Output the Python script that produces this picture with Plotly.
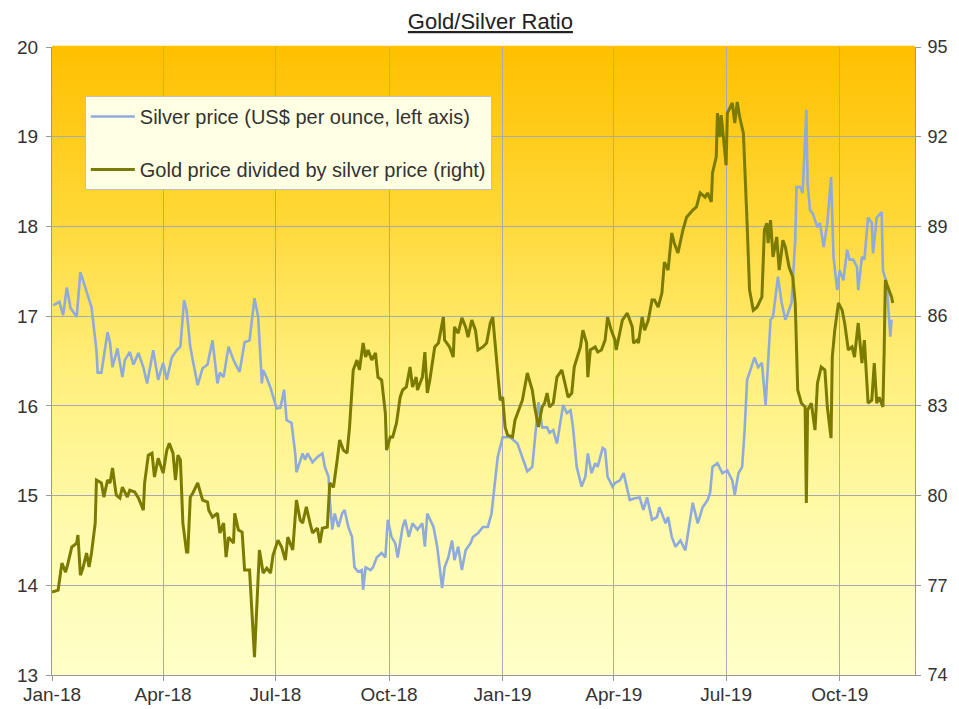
import pandas as pd
import plotly.graph_objects as go

# ---- data ----
start_date = "2018-01-01"

# silver price, US$ per ounce (left axis); days since 1 Jan 2018
silver_day = [1, 6, 9, 12, 15, 19, 20, 23, 27, 32, 36, 37, 40, 45, 47, 49, 53, 57, 59, 63,
              66, 70, 74, 77, 82, 86, 90, 93, 97, 101, 104, 107, 109, 112, 114, 118, 122, 126, 130, 134,
              136, 139, 143, 147, 150, 152, 156, 160, 164, 167, 170, 171, 174, 177, 182, 185, 188, 190, 194, 197,
              198, 203, 205, 207, 211, 215, 219, 221, 224, 225, 227, 229, 232, 235, 237, 240, 243, 245, 248, 251,
              252, 254, 258, 260, 263, 267, 270, 272, 275, 278, 280, 284, 286, 289, 292, 296, 300, 302, 304, 309,
              312, 314, 316, 318, 321, 324, 326, 329, 332, 335, 339, 341, 345, 349, 353, 356, 359, 361, 365, 371,
              377, 382, 385, 389, 393, 394, 397, 401, 403, 406, 409, 411, 414, 417, 420, 422, 425, 429, 432, 434,
              437, 440, 442, 446, 448, 450, 454, 456, 460, 463, 466, 468, 472, 476, 479, 482, 486, 490, 492, 497,
              499, 502, 505, 509, 513, 515, 519, 523, 527, 531, 533, 535, 539, 543, 547, 551, 553, 556, 559, 561,
              563, 565, 569, 572, 575, 578, 580, 582, 584, 587, 588, 591, 594, 596, 599, 602, 603, 606, 608, 611,
              612, 614, 616, 620, 622, 625, 628, 631, 633, 636, 638, 641, 644, 646, 649, 652, 653, 656, 658, 661,
              664, 665, 668, 672, 673, 676, 679, 680]
silver_usd = [17.12, 17.16, 17.01, 17.32, 17.09, 17.01, 16.99, 17.49, 17.32, 17.10, 16.62, 16.37, 16.37, 16.82, 16.70, 16.43, 16.64, 16.32, 16.51, 16.60,
              16.46, 16.59, 16.43, 16.25, 16.62, 16.29, 16.48, 16.29, 16.54, 16.62, 16.66, 17.18, 17.07, 16.66, 16.51, 16.23, 16.42, 16.46, 16.73, 16.25,
              16.37, 16.32, 16.66, 16.51, 16.43, 16.38, 16.71, 16.73, 17.20, 16.99, 16.25, 16.40, 16.31, 16.20, 15.97, 15.98, 16.18, 15.84, 15.81, 15.47,
              15.26, 15.47, 15.40, 15.47, 15.37, 15.43, 15.47, 15.32, 15.21, 14.95, 14.62, 14.80, 14.65, 14.80, 14.84, 14.65, 14.54, 14.20, 14.15, 14.17,
              13.95, 14.20, 14.17, 14.20, 14.31, 14.36, 14.31, 14.73, 14.54, 14.47, 14.31, 14.65, 14.73, 14.54, 14.69, 14.62, 14.69, 14.43, 14.80, 14.65,
              14.43, 14.17, 13.97, 14.20, 14.31, 14.50, 14.28, 14.43, 14.17, 14.39, 14.47, 14.54, 14.58, 14.65, 14.65, 14.80, 15.17, 15.43, 15.65, 15.65,
              15.58, 15.40, 15.27, 15.32, 15.88, 16.04, 15.76, 15.76, 15.70, 15.73, 15.58, 15.76, 16.01, 15.92, 15.95, 15.76, 15.32, 15.10, 15.21, 15.47,
              15.25, 15.36, 15.32, 15.53, 15.51, 15.21, 15.10, 15.14, 15.17, 15.25, 15.06, 14.95, 14.97, 14.98, 14.84, 14.98, 14.73, 14.76, 14.87, 14.69,
              14.76, 14.54, 14.43, 14.50, 14.39, 14.58, 14.92, 14.69, 14.87, 14.95, 15.03, 15.32, 15.36, 15.25, 15.28, 15.17, 15.01, 15.25, 15.32, 15.73,
              16.29, 16.37, 16.54, 16.43, 16.48, 16.01, 16.43, 16.96, 16.99, 17.29, 17.44, 17.15, 16.96, 17.03, 17.15, 17.85, 18.44, 18.44, 18.37, 19.30,
              18.48, 18.18, 18.15, 17.99, 18.04, 17.77, 18.04, 18.55, 17.66, 17.29, 17.51, 17.40, 17.74, 17.63, 17.63, 17.55, 17.29, 17.66, 17.63, 18.10,
              18.04, 17.70, 18.10, 18.16, 17.51, 17.37, 16.77, 16.96]

# gold price divided by silver price (right axis); days since 1 Jan 2018
ratio_day = [0, 5, 8, 11, 13, 16, 20, 21, 23, 25, 28, 30, 32, 35, 36, 40, 42, 45, 47, 49,
             52, 55, 57, 61, 63, 67, 70, 74, 75, 78, 81, 83, 86, 90, 93, 95, 98, 100, 102, 104,
             106, 109, 110, 112, 114, 118, 122, 126, 127, 130, 134, 136, 139, 141, 143, 147, 148, 151, 154, 156,
             160, 164, 168, 171, 174, 177, 179, 183, 186, 189, 191, 195, 198, 201, 203, 206, 209, 211, 215, 217,
             219, 223, 225, 228, 231, 233, 236, 239, 241, 244, 247, 249, 252, 254, 256, 259, 262, 264, 267, 270,
             271, 274, 276, 279, 282, 284, 287, 290, 292, 295, 296, 300, 302, 304, 306, 310, 313, 317, 318, 322,
             325, 326, 329, 332, 335, 337, 340, 343, 345, 349, 352, 355, 357, 360, 363, 365, 367, 369, 373, 375,
             379, 381, 385, 389, 391, 394, 397, 399, 401, 403, 406, 409, 413, 415, 418, 421, 423, 428, 430, 433,
             434, 436, 440, 442, 445, 448, 450, 453, 456, 457, 460, 462, 466, 470, 471, 474, 475, 478, 480, 483,
             486, 488, 491, 494, 496, 499, 502, 504, 507, 511, 514, 517, 519, 522, 525, 529, 531, 534, 535, 538,
             539, 541, 542, 544, 546, 547, 549, 551, 553, 555, 557, 560, 563, 565, 568, 571, 575, 577, 579, 580,
             582, 584, 587, 589, 592, 594, 597, 600, 602, 604, 607, 610, 611, 612, 615, 618, 620, 623, 626, 628,
             631, 632, 634, 637, 640, 642, 645, 648, 650, 653, 656, 658, 661, 664, 666, 668, 670, 673, 674, 675,
             677, 680, 681]
ratio_value = [76.77, 76.84, 77.74, 77.44, 77.74, 78.28, 78.41, 78.68, 77.34, 77.57, 78.08, 77.61, 78.08, 79.08, 80.52, 80.42, 79.95, 80.52, 80.42, 80.92,
               80.02, 79.92, 80.28, 79.95, 80.18, 80.12, 79.92, 79.51, 80.42, 81.35, 81.42, 80.62, 81.25, 80.75, 81.52, 81.75, 81.42, 80.52, 81.35, 81.19,
               79.08, 78.11, 78.11, 79.95, 80.08, 80.42, 79.85, 79.78, 79.51, 79.28, 79.41, 78.75, 79.08, 77.94, 78.61, 78.41, 79.41, 78.85, 78.78, 77.51,
               77.51, 74.60, 78.18, 77.41, 77.57, 77.41, 78.00, 78.51, 78.28, 77.84, 78.61, 78.18, 79.85, 79.18, 79.08, 79.62, 79.08, 78.75, 78.91, 78.41,
               78.91, 78.95, 80.42, 80.28, 81.19, 81.86, 81.52, 81.42, 82.29, 84.20, 84.53, 84.20, 85.10, 84.63, 84.87, 84.53, 84.77, 83.96, 83.86, 82.76,
               81.52, 81.96, 81.96, 82.42, 83.29, 83.53, 83.63, 84.30, 83.63, 83.96, 83.53, 83.96, 84.80, 83.43, 83.86, 84.97, 85.10, 85.97, 85.20, 84.97,
               84.63, 85.64, 85.43, 85.94, 85.64, 85.30, 85.87, 85.53, 84.87, 84.97, 85.10, 85.77, 85.97, 84.43, 83.19, 83.29, 82.29, 82.02, 81.96, 82.52,
               82.96, 83.19, 84.10, 83.53, 82.96, 82.29, 82.96, 83.09, 83.43, 82.96, 83.09, 83.96, 84.20, 83.86, 83.29, 83.43, 84.30, 84.97, 85.53, 85.10,
               83.96, 84.87, 84.97, 84.80, 84.87, 85.20, 85.97, 85.53, 85.20, 84.87, 85.53, 85.87, 86.10, 85.64, 85.10, 85.20, 85.10, 85.97, 85.53, 85.87,
               86.54, 86.54, 86.30, 86.77, 87.81, 87.54, 88.78, 88.44, 88.11, 88.88, 89.31, 89.45, 89.55, 89.65, 90.12, 89.98, 90.12, 89.82, 90.79, 91.33,
               92.79, 91.99, 92.72, 91.89, 91.05, 92.79, 92.99, 93.13, 92.46, 93.16, 92.66, 92.12, 89.11, 86.87, 86.20, 86.30, 86.64, 88.88, 89.11, 88.44,
               89.21, 87.98, 88.65, 87.54, 88.54, 88.31, 87.64, 87.31, 86.44, 83.53, 83.09, 82.96, 79.75, 82.86, 83.09, 82.19, 83.76, 84.30, 84.20, 82.96,
               81.92, 84.63, 85.53, 86.44, 86.20, 85.77, 84.87, 84.97, 84.63, 85.77, 84.43, 85.20, 83.09, 83.19, 84.43, 83.09, 83.29, 82.96, 84.77, 87.21,
               86.97, 86.64, 86.44]

silver_name = "Silver price (US$ per ounce, left axis)"
ratio_name = "Gold price divided by silver price (right)"
chart_title = "Gold/Silver Ratio"

# ---- styling ----
FONT = "Liberation Sans, Arial, sans-serif"
SILVER_COLOR = "#8FAADC"
RATIO_COLOR = "#7B7B00"
GRID = "#A9A9B8"

t0 = pd.Timestamp(start_date)
silver_dates = t0 + pd.to_timedelta(silver_day, unit="D")
ratio_dates = t0 + pd.to_timedelta(ratio_day, unit="D")

fig = go.Figure()
fig.add_trace(go.Scatter(x=silver_dates, y=silver_usd, name=silver_name, mode="lines",
                         line=dict(color=SILVER_COLOR, width=2.6), legendgroup="a"))
fig.add_trace(go.Scatter(x=ratio_dates, y=ratio_value, name=ratio_name, mode="lines",
                         line=dict(color=RATIO_COLOR, width=3), yaxis="y2", legendgroup="b"))

# vertical gradient background of the plotting area (orange at top -> pale yellow at bottom)
stops = [(0.0, (255, 255, 200)), (0.25, (255, 250, 170)), (0.5, (255, 238, 120)),
         (0.75, (255, 214, 50)), (1.0, (255, 192, 0))]


def grad(t):
    for (a, ca), (b, cb) in zip(stops[:-1], stops[1:]):
        if a <= t <= b:
            f = (t - a) / (b - a)
            return tuple(int(round(ca[i] + (cb[i] - ca[i]) * f)) for i in range(3))
    return stops[-1][1]


n = 90
shapes = []
for i in range(n):
    c = grad((i + 0.5) / n)
    shapes.append(dict(type="rect", xref="paper", yref="paper", x0=0, x1=1,
                       y0=i / n, y1=(i + 1) / n + 0.002, layer="below",
                       line=dict(width=0), fillcolor=f"rgb{c}"))

# the page adds an 8px body margin, so the figure is 951x701
fig.update_layout(
    width=951, height=701,
    margin=dict(l=44, r=44, t=39, b=34, autoexpand=False),
    paper_bgcolor="white",
    plot_bgcolor="rgba(0,0,0,0)",
    shapes=shapes,
    font=dict(family=FONT, size=19, color="#333333"),
    title=dict(text=f"<u>{chart_title}</u>", x=0.508, xref="paper", xanchor="center",
               y=0.981, yanchor="middle", font=dict(family=FONT, size=22, color="#222222")),
    showlegend=True,
    legend=dict(x=0.038, y=0.922, xanchor="left", yanchor="top",
                bgcolor="#FFFFE3", bordercolor="#BFBFBF", borderwidth=1,
                font=dict(family=FONT, size=20, color="#333333"),
                tracegroupgap=24, itemwidth=44, traceorder="grouped"),
    xaxis=dict(type="date", range=["2018-01-01", "2019-12-01"], dtick="M3", tick0="2018-01-01",
               tickformat="%b-%y", showgrid=True, gridcolor=GRID, gridwidth=1, automargin=False,
               showline=True, linecolor="#999999", ticks="outside", ticklen=5, tickcolor="#999999",
               tickfont=dict(size=19), zeroline=False, ticklabelstandoff=-3),
    yaxis=dict(range=[13, 20], dtick=1, showgrid=True, gridcolor=GRID, gridwidth=1, automargin=False,
               showline=True, linecolor="#999999", ticks="outside", ticklen=5, tickcolor="#999999",
               tickfont=dict(size=19), zeroline=False, ticklabelstandoff=4),
    yaxis2=dict(range=[74, 95], tick0=74, dtick=3, overlaying="y", side="right", showgrid=False,
                automargin=False, ticklabelstandoff=3,
                showline=True, linecolor="#999999", ticks="outside", ticklen=5, tickcolor="#999999",
                tickfont=dict(size=18), zeroline=False),
)

fig.write_html("out.html")
